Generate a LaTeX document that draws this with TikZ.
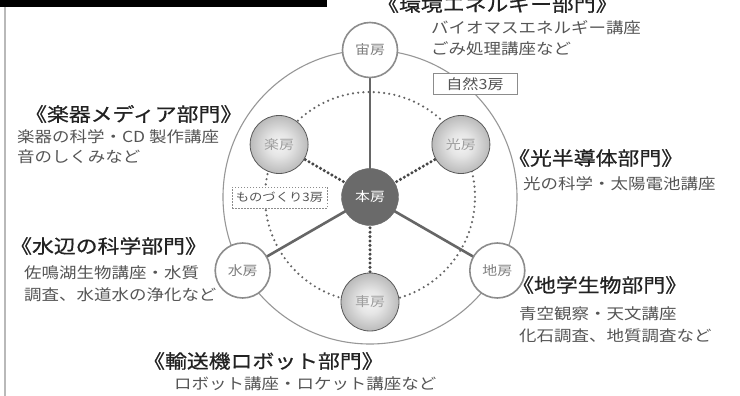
\documentclass[tikz,border=0pt]{standalone}
\usepackage{fontspec}
\newfontfamily\jp[FakeStretch=1.15]{Noto Sans CJK JP}
\newfontfamily\jpt[FakeStretch=1.15,FakeBold=0.7]{Noto Sans CJK JP}
\definecolor{ttl}{HTML}{222222}
\definecolor{bdy}{HTML}{555555}
\definecolor{rim}{HTML}{8C8C8C}
\definecolor{spoke}{HTML}{666666}
\definecolor{hubfill}{HTML}{6A6A6A}
\pgfdeclareradialshading{ballshade}{\pgfpoint{0bp}{0bp}}{%
  color(0bp)=(white!96!black);
  color(10bp)=(white!90!black);
  color(26bp)=(white!72!black);
  color(40bp)=(white!52!black);
  color(50bp)=(white!38!black)}
\begin{document}
\begin{tikzpicture}[x=1pt,y=-1pt,
  title/.style={anchor=west,inner sep=0pt,text=ttl,font=\jpt\fontsize{19}{21}\selectfont},
  body/.style={anchor=west,inner sep=0pt,text=bdy,font=\jp\fontsize{15.2}{17}\selectfont},
  hub/.style={circle,fill=hubfill,draw=hubfill,minimum size=57pt,inner sep=0pt,text=white,font=\jp\fontsize{13}{15}\selectfont},
  wcirc/.style={circle,fill=white,draw=rim,line width=1.6pt,minimum size=55pt,inner sep=0pt,text=rim!90!black,font=\jp\fontsize{13}{15}\selectfont},
  ball/.style={circle,draw=white!35!black,line width=0.8pt,shading=ballshade,minimum size=58pt,inner sep=0pt,text=white!62!black,font=\jp\fontsize{13}{15}\selectfont},
  outerring/.style={draw=rim!90,line width=1.1pt},
  innerring/.style={draw=white!40!black,line width=2.4pt,dash pattern=on 0pt off 5.2pt,line cap=round},
  spokeline/.style={draw=spoke,line width=2.6pt},
  dotspoke/.style={draw=white!28!black,line width=3.4pt,dash pattern=on 0pt off 4.4pt,line cap=round},
  natbox/.style={draw=rim,fill=white,line width=1pt,minimum width=84pt,minimum height=21pt,inner sep=0pt,text=bdy,font=\jp\fontsize{14}{16}\selectfont},
  makebox/.style={draw=rim,fill=white,line width=0.9pt,dash pattern=on 1.5pt off 1.5pt,minimum width=95pt,minimum height=21pt,inner sep=0pt,text=bdy,font=\jp\fontsize{11.6}{14}\selectfont}
]
\useasboundingbox (0,0) rectangle (740,396);
\fill[white] (0,0) rectangle (740,396);
% top banner and left rule
\fill[black] (0,0) rectangle (327,7);
\draw[gray!55,line width=1.5pt] (5,7) -- (5,396);

\coordinate (c) at (370,197);
\draw[outerring] (c) circle[radius=147pt];
\draw[innerring] (c) circle[radius=105pt];

% node positions
\coordinate (phon) at (370,197);
\coordinate (pchu) at (370,50);
\coordinate (pmizu) at (242.7,270.5);
\coordinate (pchi) at (497.3,270.5);
\coordinate (pgaku) at (279.1,144.5);
\coordinate (phikari) at (460.9,144.5);
\coordinate (pkuruma) at (370,302);

\draw[spokeline] (phon) -- (pchu);
\draw[spokeline] (phon) -- (pmizu);
\draw[spokeline] (phon) -- (pchi);
\draw[dotspoke] (phon) -- (pgaku);
\draw[dotspoke] (phon) -- (phikari);
\draw[dotspoke] (phon) -- (pkuruma);

\node[hub] (hon) at (phon) {本房};
\node[wcirc] (chu) at (pchu) {宙房};
\node[wcirc] (mizu) at (pmizu) {水房};
\node[wcirc] (chi) at (pchi) {地房};
\node[ball] (gaku) at (pgaku) {楽房};
\node[ball] (hikari) at (phikari) {光房};
\node[ball] (kuruma) at (pkuruma) {車房};

\node[natbox] (shizen) at (475,84.5) {自然3房};
\node[makebox] (mono) at (279.5,197.5) {ものづくり3房};

% department labels
\node[title] (t1) at (377,4) {《環境エネルギー部門》};
\node[body] (b1a) at (431,28) {バイオマスエネルギー講座};
\node[body] (b1b) at (431,49) {ごみ処理講座など};

\node[title] (t2) at (25,114) {《楽器メディア部門》};
\node[body] (b2a) at (17,137) {楽器の科学・CD 製作講座};
\node[body] (b2b) at (17,157) {音のしくみなど};

\node[title] (t3) at (508,158) {《光半導体部門》};
\node[body] (b3a) at (523,184) {光の科学・太陽電池講座};

\node[title] (t4) at (10,246) {《水辺の科学部門》};
\node[body] (b4a) at (24,273) {佐鳴湖生物講座・水質};
\node[body] (b4b) at (24,295) {調査、水道水の浄化など};

\node[title] (t5) at (512,285) {《地学生物部門》};
\node[body] (b5a) at (519,314) {青空観察・天文講座};
\node[body] (b5b) at (519,336) {化石調査、地質調査など};

\node[title] (t6) at (143,361) {《輸送機ロボット部門》};
\node[body] (b6a) at (174,384) {ロボット講座・ロケット講座など};
\end{tikzpicture}
\end{document}
